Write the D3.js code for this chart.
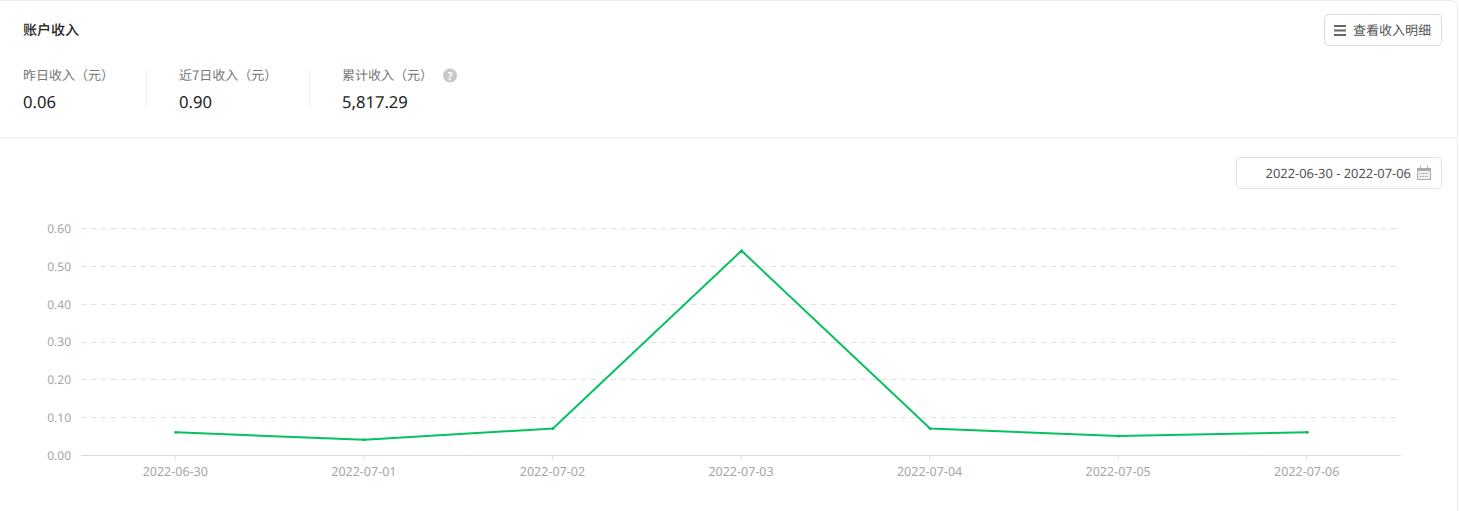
<!DOCTYPE html>
<html>
<head>
<meta charset="utf-8">
<script src="https://cdn.jsdelivr.net/npm/d3@7"></script>
<style>
  html, body { margin: 0; padding: 0; background: #fff; overflow: hidden; }
  svg { display: block; font-family: "Noto Sans CJK SC", "Noto Sans", sans-serif; text-rendering: geometricPrecision; }
</style>
</head>
<body>
<div id="chart"></div>
<script>
// income per day
const dates = ["2022-06-30", "2022-07-01", "2022-07-02", "2022-07-03", "2022-07-04", "2022-07-05", "2022-07-06"];
const income = [0.06, 0.04, 0.07, 0.54, 0.07, 0.05, 0.06];
const yTicks = [0, 0.1, 0.2, 0.3, 0.4, 0.5, 0.6];

const statLabels = ["昨日收入（元）", "近7日收入（元）", "累计收入（元）"];
const statValues = ["0.06", "0.90", "5,817.29"];
const statX = [23, 179, 342];

const width = 1459;
const height = 511;
const margin = { top: 228, right: 58, bottom: 56, left: 81 };

const svg = d3.select("#chart")
    .append("svg")
    .attr("width", width)
    .attr("height", height)
    .attr("viewBox", [0, 0, width, height]);

// card outline, only the right edge and top corner show
svg.append("path")
    .attr("d", "M0,0.5H1450Q1457.5,0.5 1457.5,8V511")
    .attr("fill", "none")
    .attr("stroke", "#ececec");

svg.append("text")
    .attr("x", 23)
    .attr("y", 35)
    .attr("font-size", 14)
    .attr("font-weight", 500)
    .attr("fill", "#222")
    .text("账户收入");

// stats row
svg.selectAll(".stat-label")
    .data(statLabels)
    .enter().append("text")
    .attr("class", "stat-label")
    .attr("x", (d, i) => statX[i])
    .attr("y", 80)
    .attr("font-size", 13)
    .attr("fill", "#777")
    .text(d => d);

svg.selectAll(".stat-value")
    .data(statValues)
    .enter().append("text")
    .attr("class", "stat-value")
    .attr("x", (d, i) => statX[i])
    .attr("y", 108)
    .attr("font-size", 16.6)
    .attr("font-family", "'Noto Sans', sans-serif")
    .attr("fill", "#222")
    .text(d => d);

svg.selectAll(".stat-sep")
    .data([146.5, 309.5])
    .enter().append("line")
    .attr("class", "stat-sep")
    .attr("x1", d => d)
    .attr("x2", d => d)
    .attr("y1", 70)
    .attr("y2", 108)
    .attr("stroke", "#f0f0f0");

// help icon
svg.append("circle")
    .attr("cx", 450)
    .attr("cy", 75.5)
    .attr("r", 7)
    .attr("fill", "#c8c8c8");
svg.append("text")
    .attr("x", 450)
    .attr("y", 79.5)
    .attr("text-anchor", "middle")
    .attr("font-size", 11)
    .attr("font-weight", 700)
    .attr("font-family", "'Noto Sans', sans-serif")
    .attr("fill", "#fff")
    .text("?");

svg.append("line")
    .attr("x1", 0)
    .attr("x2", 1457)
    .attr("y1", 137.5)
    .attr("y2", 137.5)
    .attr("stroke", "#ececec");

// detail button
svg.append("rect")
    .attr("x", 1324.5)
    .attr("y", 14.5)
    .attr("width", 117)
    .attr("height", 31)
    .attr("rx", 4)
    .attr("fill", "#fff")
    .attr("stroke", "#dcdcdc");
svg.selectAll(".menu-bar")
    .data([25, 29.5, 34])
    .enter().append("rect")
    .attr("class", "menu-bar")
    .attr("x", 1334)
    .attr("y", d => d)
    .attr("width", 12)
    .attr("height", 2)
    .attr("fill", "#666");
svg.append("text")
    .attr("x", 1353)
    .attr("y", 35)
    .attr("font-size", 13)
    .attr("fill", "#555")
    .text("查看收入明细");

// date picker
svg.append("rect")
    .attr("x", 1236.5)
    .attr("y", 157.5)
    .attr("width", 205)
    .attr("height", 31)
    .attr("rx", 4)
    .attr("fill", "#fff")
    .attr("stroke", "#e2e2e2");
svg.append("text")
    .attr("x", 1411)
    .attr("y", 178)
    .attr("text-anchor", "end")
    .attr("font-size", 12.9)
    .attr("font-family", "'Noto Sans', sans-serif")
    .attr("fill", "#555")
    .text(dates[0] + " - " + dates[dates.length - 1]);

const cal = svg.append("g").attr("fill", "none").attr("stroke", "#aaa");
cal.append("rect").attr("x", 1417.5).attr("y", 168.5).attr("width", 13).attr("height", 11).attr("fill", "#f0f0f0");
cal.append("rect").attr("x", 1417).attr("y", 168).attr("width", 14).attr("height", 3).attr("fill", "#aaa").attr("stroke", "none");
cal.append("path").attr("d", "M1420.5,166V168M1427.5,166V168");
cal.append("path").attr("d", "M1419.5,173.5H1428.5M1419.5,176.5H1428.5").attr("stroke-dasharray", "2 1");

// chart
const x = d3.scaleBand()
    .domain(dates)
    .range([margin.left, width - margin.right]);

const y = d3.scaleLinear()
    .domain([0, 0.6])
    .range([height - margin.bottom, margin.top]);

svg.selectAll(".grid")
    .data(yTicks.slice(1))
    .enter().append("line")
    .attr("class", "grid")
    .attr("x1", margin.left)
    .attr("x2", width - margin.right)
    .attr("y1", d => Math.round(y(d)) + 0.5)
    .attr("y2", d => Math.round(y(d)) + 0.5)
    .attr("stroke", "#e0e0e0")
    .attr("stroke-dasharray", "5 5");

const xAxis = svg.append("g")
    .attr("transform", `translate(0,${height - margin.bottom})`)
    .call(d3.axisBottom(x).tickSize(5).tickPadding(7));
xAxis.select(".domain").attr("stroke", "#d9d9d9").attr("d", `M${margin.left},0.5H${width - margin.right}`);
xAxis.selectAll("line").attr("stroke", "#e0e0e0");
xAxis.selectAll("text")
    .attr("font-size", 12.5)
    .attr("font-family", "'Noto Sans', sans-serif")
    .attr("fill", "#a6a6a6");

const yAxis = svg.append("g")
    .attr("transform", `translate(${margin.left},0.6)`)
    .call(d3.axisLeft(y).tickValues(yTicks).tickFormat(d3.format(".2f")).tickSize(0).tickPadding(10));
yAxis.select(".domain").remove();
yAxis.selectAll("text")
    .attr("font-size", 12)
    .attr("font-family", "'Noto Sans', sans-serif")
    .attr("fill", "#a6a6a6");

const cx = (d, i) => x(dates[i]) + x.bandwidth() / 2 + 0.5;

const line = d3.line()
    .x(cx)
    .y(d => y(d));

svg.append("path")
    .datum(income)
    .attr("d", line)
    .attr("fill", "none")
    .attr("stroke", "#07c160")
    .attr("stroke-width", 2);

svg.selectAll(".pt")
    .data(income)
    .enter().append("circle")
    .attr("class", "pt")
    .attr("cx", cx)
    .attr("cy", d => y(d))
    .attr("r", 1.5)
    .attr("fill", "#07c160");
</script>
</body>
</html>
